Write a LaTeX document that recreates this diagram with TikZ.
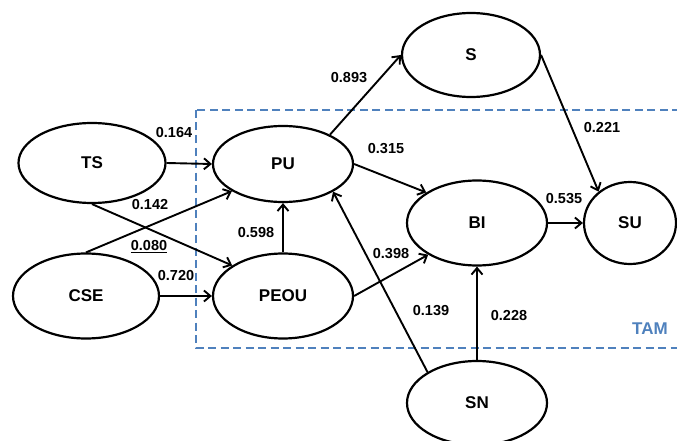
\documentclass[tikz,border=0pt]{standalone}
\usepackage{fontspec}
\setmainfont{Liberation Sans}
\usepackage{xcolor}
\usepackage{tikz}
\usetikzlibrary{arrows.meta,shapes.geometric}
\definecolor{tamblue}{RGB}{79,129,189}
\tikzset{
 sem construct/.style={ellipse,draw=black,line width=2.2pt,inner sep=0pt,
                       font=\fontsize{17}{19}\selectfont\bfseries},
 sem path/.style={line width=1.9pt,-{Straight Barb[length=6.5pt,width=11pt]}},
 sem coef/.style={inner sep=0pt,font=\fontsize{14.5}{16}\selectfont\bfseries},
 sem frame/.style={tamblue,line width=2.4pt,dash pattern=on 8pt off 4.5pt}
}
\begin{document}
\begin{tikzpicture}[x=1pt,y=-1pt]
 \useasboundingbox (0,0) rectangle (677,441);
 % TAM block
 \draw[sem frame] (196,110) rectangle (700,348);
 \node[text=tamblue,inner sep=0pt,font=\fontsize{17}{19}\selectfont\bfseries]
   (tam) at (650,329) {TAM};

 \node[sem construct,minimum width=147pt,minimum height=80pt] (ts) at (92,163) {TS};
 \node[sem construct,minimum width=146pt,minimum height=85pt] (cse) at (86,296) {CSE};
 \node[sem construct,minimum width=140pt,minimum height=76pt] (pu) at (283,164) {PU};
 \node[sem construct,minimum width=140pt,minimum height=85pt] (peou) at (283,296) {PEOU};
 \node[sem construct,minimum width=138pt,minimum height=84pt] (s) at (471,55) {S};
 \node[sem construct,minimum width=140pt,minimum height=85pt] (bi) at (477,223) {BI};
 \node[sem construct,minimum width=92pt,minimum height=82pt] (su) at (630,223) {SU};
 \node[sem construct,minimum width=140pt,minimum height=84pt] (sn) at (477,403) {SN};

 \draw[sem path] (ts.east)--(pu.west);
 \draw[sem path] (ts.south)--(peou.149);
 \draw[sem path] (cse.north)--(pu.208);
 \draw[sem path] (cse.east)--(peou.west);
 \draw[sem path] (peou.north)--(pu.south);
 \draw[sem path] (pu.32)--(s.west);
 \draw[sem path] (pu.east)--(bi.149);
 \draw[sem path] (peou.east)--(bi.213);
 \draw[sem path] (sn.148)--(pu.331);
 \draw[sem path] (sn.north)--(bi.south);
 \draw[sem path] (s.east)--(su.135);
 \draw[sem path] (bi.east)--(su.west);

 \node[sem coef] (c164) at (174,133) {0.164};
 \node[sem coef] (c142) at (150,205) {0.142};
 \node[sem coef] (c080) at (149,247) {\underline{0.080}};
 \node[sem coef] (c720) at (176,276) {0.720};
 \node[sem coef] (c598) at (256,233) {0.598};
 \node[sem coef] (c893) at (349,78) {0.893};
 \node[sem coef] (c315) at (386,149) {0.315};
 \node[sem coef] (c221) at (602,128) {0.221};
 \node[sem coef] (c535) at (564,199) {0.535};
 \node[sem coef] (c398) at (391,254) {0.398};
 \node[sem coef] (c139) at (431,311) {0.139};
 \node[sem coef] (c228) at (509,316) {0.228};
\end{tikzpicture}
\end{document}
